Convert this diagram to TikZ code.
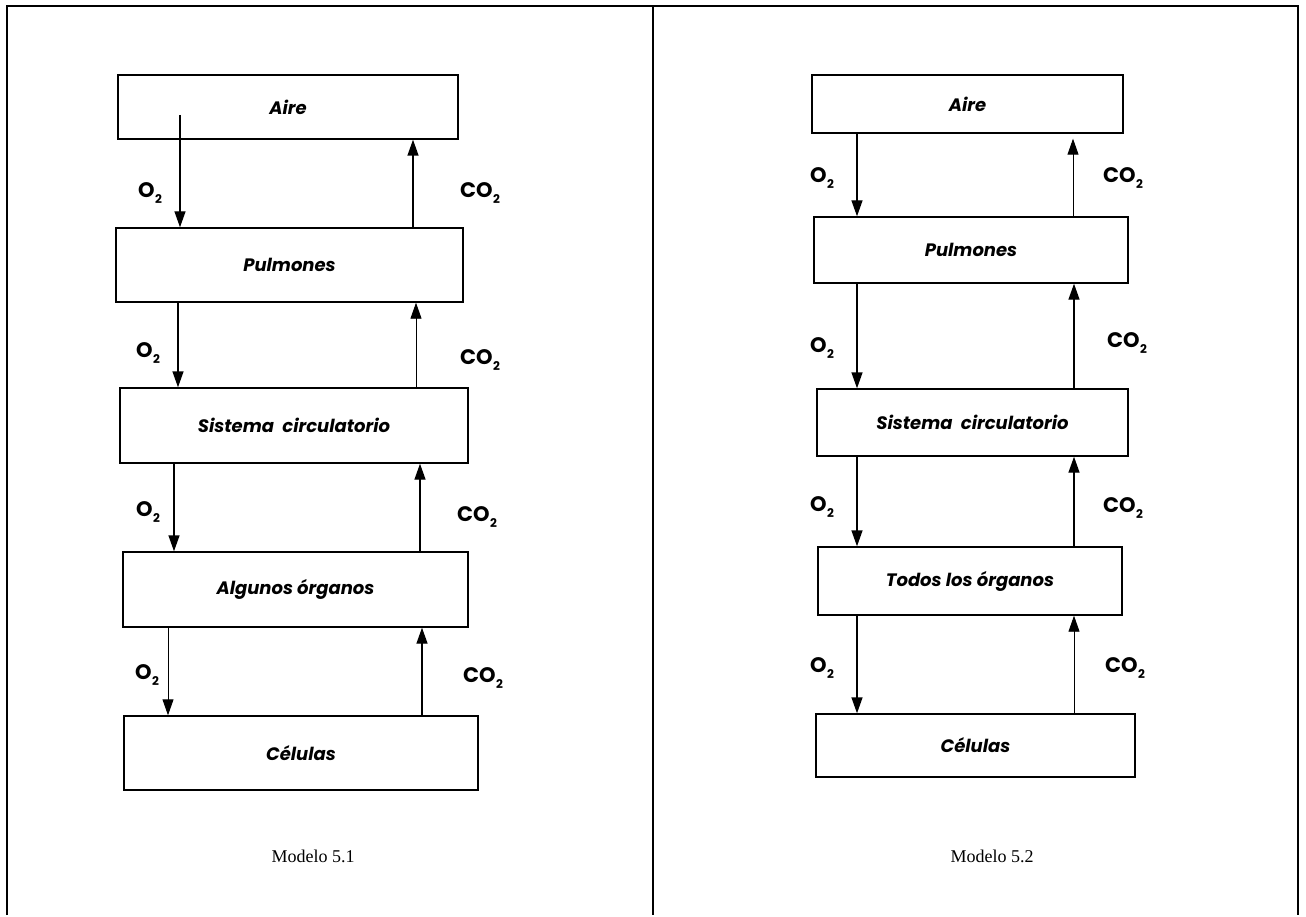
\documentclass[tikz,border=0pt]{standalone}
\usepackage{fontspec}
\setmainfont{Liberation Serif}
\newfontfamily\geo{Poppins}
\usetikzlibrary{arrows.meta}
\newcommand{\subtwo}{\kern0.5pt\raisebox{-0.45ex}{\fontsize{12}{12}\selectfont 2}}
\begin{document}
\begin{tikzpicture}[x=1pt,y=-1pt,
  box/.style={draw, line width=1.4pt, inner sep=0pt, font=\geo\itshape\bfseries\fontsize{18}{21}\selectfont},
  arr/.style={line width=1.4pt, -{Triangle[length=16pt,width=11pt]}},
  thinarr/.style={line width=0.9pt, -{Triangle[length=16pt,width=11pt]}},
  gas/.style={font=\geo\bfseries\fontsize{21}{24}\selectfont},
  caption/.style={font=\fontsize{18}{22}\selectfont},
  frameline/.style={line width=2pt}]
\useasboundingbox (0,0) rectangle (1306,917);
% frame
\draw[frameline] (7,915) -- (7,6) -- (1298,6) -- (1298,915);
\draw[frameline] (653,6) -- (653,915);
% ---------- left model ----------
\node[box, minimum width=340pt, minimum height=64pt] (LA) at (288,107) {Aire};
\node[box, minimum width=347pt, minimum height=74pt] (LP) at (289.5,265) {Pulmones};
\node[box, minimum width=348pt, minimum height=75pt] (LS) at (294,425.5) {Sistema\ \ circulatorio};
\node[box, minimum width=345pt, minimum height=75pt] (LO) at (295.5,589.5) {Algunos órganos};
\node[box, minimum width=354pt, minimum height=74pt] (LC) at (301,753) {Células};
\coordinate (sL1) at (180,115);
\coordinate (dL2) at (178,0);
\coordinate (dL3) at (174,0);
\coordinate (dL4) at (168,0);
\coordinate (uL1) at (413,0);
\coordinate (uL2) at (416,0);
\coordinate (uL3) at (420,0);
\coordinate (uL4) at (422,0);
\draw[arr] (sL1) -- (LP.north -| sL1);
\draw[arr] (LP.south -| dL2) -- (LS.north -| dL2);
\draw[arr] (LS.south -| dL3) -- (LO.north -| dL3);
\draw[thinarr] (LO.south -| dL4) -- (LC.north -| dL4);
\draw[arr] (LP.north -| uL1) -- (LA.south -| uL1);
\draw[thinarr] (LS.north -| uL2) -- (LP.south -| uL2);
\draw[arr] (LO.north -| uL3) -- (LS.south -| uL3);
\draw[arr] (LC.north -| uL4) -- (LO.south -| uL4);
\node[gas] (lo1) at (150,193) {O\subtwo};
\node[gas] (lo2) at (148,353) {O\subtwo};
\node[gas] (lo3) at (148,512) {O\subtwo};
\node[gas] (lo4) at (147,675) {O\subtwo};
\node[gas] (lc1) at (480,193) {CO\subtwo};
\node[gas] (lc2) at (480,360) {CO\subtwo};
\node[gas] (lc3) at (477,517) {CO\subtwo};
\node[gas] (lc4) at (483,678) {CO\subtwo};
\node[caption] (m1) at (313,856) {Modelo 5.1};
% ---------- right model ----------
\node[box, minimum width=311pt, minimum height=58pt] (RA) at (967.5,104) {Aire};
\node[box, minimum width=314pt, minimum height=66pt] (RP) at (971,250) {Pulmones};
\node[box, minimum width=311pt, minimum height=67pt] (RS) at (972.5,422.5) {Sistema\ \ circulatorio};
\node[box, minimum width=304pt, minimum height=68pt] (RT) at (970,581) {Todos los órganos};
\node[box, minimum width=319pt, minimum height=63pt] (RC) at (975.5,745.5) {Células};
\coordinate (dR) at (857,0);
\coordinate (uR1) at (1073,0);
\coordinate (uR) at (1074,0);
\draw[arr] (RA.south -| dR) -- (RP.north -| dR);
\draw[arr] (RP.south -| dR) -- (RS.north -| dR);
\draw[arr] (RS.south -| dR) -- (RT.north -| dR);
\draw[arr] (RT.south -| dR) -- (RC.north -| dR);
\draw[thinarr, shorten >=5pt] (RP.north -| uR1) -- (RA.south -| uR1);
\draw[arr] (RS.north -| uR) -- (RP.south -| uR);
\draw[arr] (RT.north -| uR) -- (RS.south -| uR);
\draw[thinarr] (RC.north -| uR) -- (RT.south -| uR);
\node[gas] (ro1) at (822,178) {O\subtwo};
\node[gas] (ro2) at (822,348) {O\subtwo};
\node[gas] (ro3) at (822,507) {O\subtwo};
\node[gas] (ro4) at (822,668) {O\subtwo};
\node[gas] (rc1) at (1123,178) {CO\subtwo};
\node[gas] (rc2) at (1127,343) {CO\subtwo};
\node[gas] (rc3) at (1123,508) {CO\subtwo};
\node[gas] (rc4) at (1125,668) {CO\subtwo};
\node[caption] (m2) at (992,856) {Modelo 5.2};
\end{tikzpicture}
\end{document}
